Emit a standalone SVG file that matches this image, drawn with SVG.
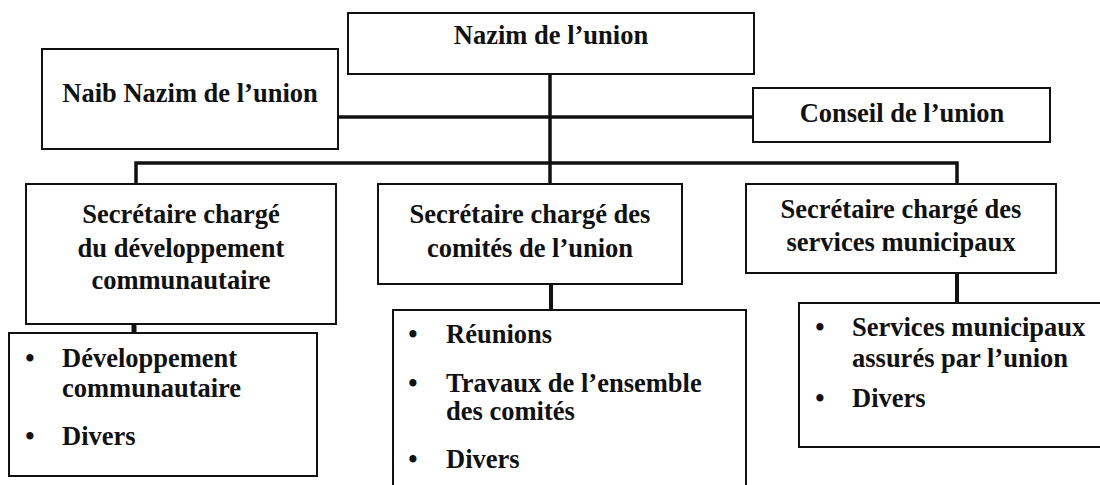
<svg xmlns="http://www.w3.org/2000/svg" width="1100" height="485" viewBox="0 0 1100 485">
<style>
.box{fill:#fff;stroke:#111;stroke-width:2}
.t{font-family:"Liberation Serif","Times New Roman",serif;font-weight:bold;font-size:26.5px;fill:#111}
.c{text-anchor:middle}
.ln{stroke:#111;stroke-width:3.5;fill:none;stroke-linecap:butt}
</style>
<rect width="1100" height="485" fill="#fff"/>
<g id="connectors">
<line class="ln" x1="550" y1="74" x2="550" y2="184"/>
<line class="ln" x1="338" y1="117" x2="550" y2="117"/>
<line class="ln" x1="550" y1="117" x2="753" y2="117"/>
<polyline class="ln" points="136,184 136,163 957,163 957,184"/>
<line class="ln" x1="134" y1="324" x2="134" y2="333" style="stroke-width:5"/>
<line class="ln" x1="551" y1="284" x2="551" y2="310" style="stroke-width:4"/>
<line class="ln" x1="957" y1="273" x2="957" y2="303" style="stroke-width:4"/>
</g>
<g id="nazim">
<rect class="box" x="348" y="13" width="406" height="61"/>
<text class="t c" x="551" y="44">Nazim de l’union</text>
</g>
<g id="naib">
<rect class="box" x="42" y="49" width="296" height="100"/>
<text class="t c" x="190" y="102">Naib Nazim de l’union</text>
</g>
<g id="conseil">
<rect class="box" x="753" y="88" width="297" height="54"/>
<text class="t c" x="902" y="122">Conseil de l’union</text>
</g>
<g id="sec-dev">
<rect class="box" x="26" y="184" width="310" height="140"/>
<text class="t c" x="181" y="223">Secrétaire chargé</text>
<text class="t c" x="181" y="257">du développement</text>
<text class="t c" x="181" y="289">communautaire</text>
</g>
<g id="sec-comites">
<rect class="box" x="378" y="184" width="304" height="100"/>
<text class="t c" x="530" y="223">Secrétaire chargé des</text>
<text class="t c" x="530" y="257">comités de l’union</text>
</g>
<g id="sec-services">
<rect class="box" x="746" y="184" width="310" height="89"/>
<text class="t c" x="901" y="218">Secrétaire chargé des</text>
<text class="t c" x="901" y="251">services municipaux</text>
</g>
<g id="list-dev">
<rect class="box" x="9" y="333" width="308" height="143"/>
<text class="t c" x="30" y="367">•</text>
<text class="t" x="62" y="367">Développement</text>
<text class="t" x="62" y="397">communautaire</text>
<text class="t c" x="30" y="445">•</text>
<text class="t" x="62" y="445">Divers</text>
</g>
<g id="list-comites">
<rect class="box" x="393" y="310" width="353" height="185"/>
<text class="t c" x="413" y="343">•</text>
<text class="t" x="446" y="343">Réunions</text>
<text class="t c" x="413" y="392">•</text>
<text class="t" x="446" y="392">Travaux de l’ensemble</text>
<text class="t" x="446" y="420">des comités</text>
<text class="t c" x="413" y="468">•</text>
<text class="t" x="446" y="468">Divers</text>
</g>
<g id="list-services">
<rect class="box" x="799" y="303" width="310" height="144"/>
<text class="t c" x="820" y="336">•</text>
<text class="t" x="852" y="336">Services municipaux</text>
<text class="t" x="852" y="367">assurés par l’union</text>
<text class="t c" x="820" y="407">•</text>
<text class="t" x="852" y="407">Divers</text>
</g>
</svg>
